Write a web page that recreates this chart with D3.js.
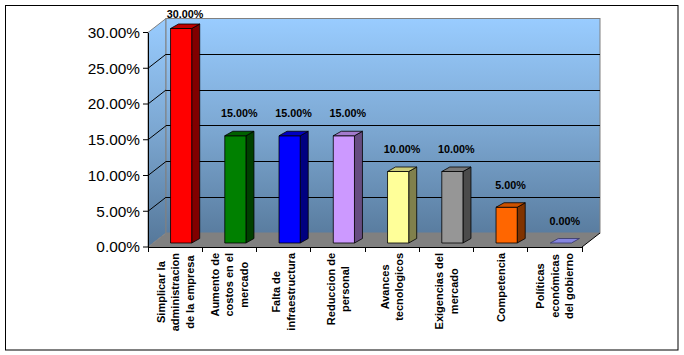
<!DOCTYPE html>
<html>
<head>
<meta charset="utf-8">
<script src="https://cdn.jsdelivr.net/npm/d3@7"></script>
<style>
html,body{margin:0;padding:0;background:#fff;}
svg{display:block;}
text{font-family:"Liberation Sans",Arial,sans-serif;}
</style>
</head>
<body>
<script>
// ---- data ----
const categories = [
  "Simplicar la\nadministracion\nde la empresa",
  "Aumento de\ncostos en el\nmercado",
  "Falta de\ninfraestructura",
  "Reduccion de\npersonal",
  "Avances\ntecnologicos",
  "Exigencias del\nmercado",
  "Competencia",
  "Políticas\neconómicas\ndel gobierno"
];
const values = [0.30, 0.15, 0.15, 0.15, 0.10, 0.10, 0.05, 0.00];
const yTicks = [0, 0.05, 0.10, 0.15, 0.20, 0.25, 0.30];

// ---- styles ----
const frontColors = ["#FF0000","#008000","#0000FF","#CC99FF","#FFFF99","#969696","#FF6600","#9999FF"];
const sideColors  = ["#800000","#004000","#000080","#664C80","#80804C","#4B4B4B","#803300","#4C4C80"];
const topColors   = ["#C00000","#006000","#0000C0","#A37ACC","#CCCC7A","#787878","#CC5200","#8585E0"];

const W = 684, H = 355;
const DX = 18, DY = -14;          // wall depth
const BOX = 6, BOY = -4;          // bar offset into depth
const BDX = 8, BDY = -4.5;        // bar depth

const svg = d3.select("body").append("svg").attr("width", W).attr("height", H);

svg.append("rect").attr("x",5.5).attr("y",5.5).attr("width",672.5).attr("height",344.5)
  .attr("fill","#fff").attr("stroke","#000").attr("stroke-width",1);

const x = d3.scaleBand().domain(categories).range([148, 582]).padding(0);
const y = d3.scaleLinear().domain([0, 0.30]).range([247, 32.5]);

const defs = svg.append("defs");
const grad = defs.append("linearGradient").attr("id","wall")
  .attr("gradientUnits","userSpaceOnUse").attr("x1",0).attr("x2",0)
  .attr("y1", y(0.30)+DY).attr("y2", y(0));
grad.append("stop").attr("offset","0%").attr("stop-color","#99CCFF");
grad.append("stop").attr("offset","50%").attr("stop-color","#7BA6D0");
grad.append("stop").attr("offset","100%").attr("stop-color","#557799");

const [xl, xr] = x.range();
const yTop = y(0.30), yBot = y(0);

// side wall
svg.append("polygon")
  .attr("points", [[xl,yTop],[xl+DX,yTop+DY],[xl+DX,yBot+DY],[xl,yBot]].map(p=>p.join(",")).join(" "))
  .attr("fill","url(#wall)").attr("stroke","#808080").attr("stroke-width",1);
// back wall
svg.append("rect").attr("x", xl+DX).attr("y", yTop+DY).attr("width", xr-xl).attr("height", yBot-yTop)
  .attr("fill","url(#wall)").attr("stroke","#808080").attr("stroke-width",1);

// gridlines
const inner = yTicks.filter(t => t > 0 && t < 0.30);
svg.append("g").selectAll("line.bg").data(inner).join("line")
  .attr("x1", xl+DX).attr("x2", xr+DX).attr("y1", d=>y(d)+DY).attr("y2", d=>y(d)+DY)
  .attr("stroke","#000").attr("stroke-width",1).attr("shape-rendering","crispEdges");
svg.append("g").selectAll("line.sg").data(inner).join("line")
  .attr("x1", xl).attr("x2", xl+DX).attr("y1", d=>y(d)).attr("y2", d=>y(d)+DY)
  .attr("stroke","#000").attr("stroke-width",1);

// floor
svg.append("polygon")
  .attr("points", [[xl,yBot],[xr,yBot],[xr+DX,yBot+DY],[xl+DX,yBot+DY]].map(p=>p.join(",")).join(" "))
  .attr("fill","#808080");
svg.append("line").attr("x1",xr).attr("y1",yBot).attr("x2",xr+DX).attr("y2",yBot+DY)
  .attr("stroke","#000").attr("stroke-width",1);

// bars
const bw = x.bandwidth()*0.39;
const bars = svg.append("g");
categories.forEach((c,i) => {
  const v = values[i];
  const x0 = x(c) + (x.bandwidth()-bw)/2 + BOX;
  const y0 = y(0) + BOY, y1 = y(v) + BOY;
  const g = bars.append("g").attr("stroke","#000").attr("stroke-width",0.8).attr("stroke-linejoin","round");
  if (y0 - y1 > 0.5) {
    g.append("polygon")
      .attr("points", [[x0+bw,y1],[x0+bw+BDX,y1+BDY],[x0+bw+BDX,y0+BDY],[x0+bw,y0]].map(p=>p.join(",")).join(" "))
      .attr("fill", sideColors[i]);
    g.append("rect").attr("x",x0).attr("y",y1).attr("width",bw).attr("height",y0-y1)
      .attr("fill", frontColors[i]);
  }
  g.append("polygon")
    .attr("points", [[x0,y1],[x0+BDX,y1+BDY],[x0+bw+BDX,y1+BDY],[x0+bw,y1]].map(p=>p.join(",")).join(" "))
    .attr("fill", topColors[i]).attr("stroke", v===0 ? "#333366" : "#000");
  // data label
  const lx = x0 + (bw+BDX)/2;
  const ly = Math.max(18, y1 + BDY - 14);
  svg.append("text").attr("transform", `translate(${lx},${ly}) scale(1.08,1)`)
    .attr("text-anchor","middle").attr("font-size","10px").attr("font-weight","bold")
    .attr("fill","#000").text(d3.format(".2%")(v));
});

// y axis
svg.append("line").attr("x1",xl).attr("x2",xl).attr("y1",yTop).attr("y2",yBot)
  .attr("stroke","#000").attr("stroke-width",1).attr("shape-rendering","crispEdges");
svg.append("g").selectAll("line").data(yTicks).join("line")
  .attr("x1", xl-5).attr("x2", xl).attr("y1", d=>y(d)).attr("y2", d=>y(d))
  .attr("stroke","#000").attr("stroke-width",1);
svg.append("g").selectAll("text").data(yTicks).join("text")
  .attr("transform", d => `translate(140,${y(d)+5.3}) scale(1.1,1)`)
  .attr("text-anchor","end").attr("font-size","14px").attr("fill","#000")
  .text(d => d3.format(".2%")(d));

// x axis
svg.append("line").attr("x1",xl).attr("x2",xr).attr("y1",yBot).attr("y2",yBot)
  .attr("stroke","#000").attr("stroke-width",1).attr("shape-rendering","crispEdges");
const bounds = categories.map(c => x(c)).concat([xr]);
svg.append("g").selectAll("line").data(bounds).join("line")
  .attr("x1", d=>d).attr("x2", d=>d).attr("y1", yBot).attr("y2", yBot+5)
  .attr("stroke","#000").attr("stroke-width",1).attr("shape-rendering","crispEdges");

// category labels
const LH = 14.5;
categories.forEach(c => {
  const lines = c.split("\n");
  const cx = x(c) + x.bandwidth()/2;
  const g = svg.append("g").attr("transform", `translate(${cx},253) rotate(-90)`);
  const ts = lines.map((ln, i) => g.append("text")
    .attr("font-size","11px").attr("font-weight","bold").attr("fill","#000")
    .attr("text-anchor","middle")
    .attr("y", (i-(lines.length-1)/2)*LH + 4)
    .text(ln));
  const maxLen = d3.max(ts, t => t.node().getComputedTextLength());
  ts.forEach(t => t.attr("x", -maxLen/2));
});
</script>
</body>
</html>
